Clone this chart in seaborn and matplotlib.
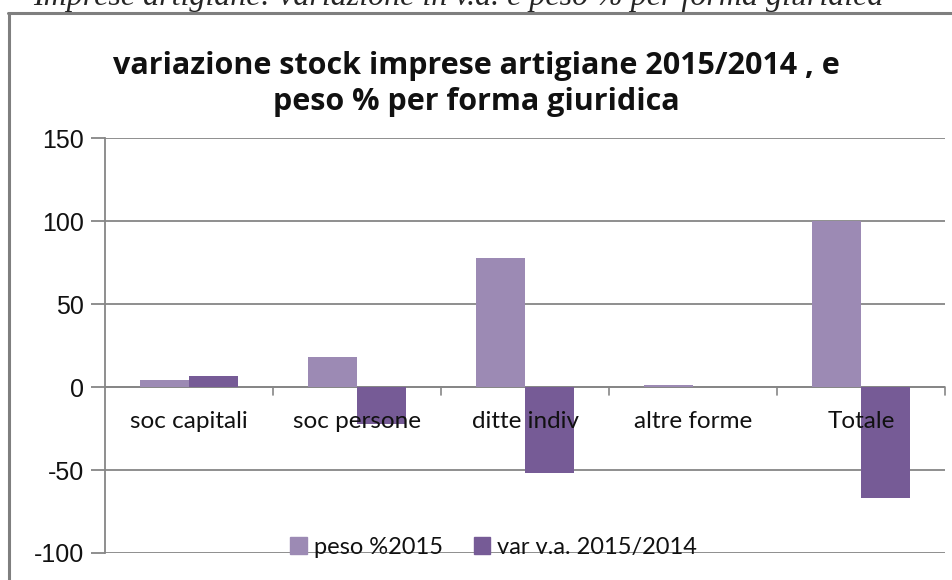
import numpy as np
import pandas as pd
import matplotlib
matplotlib.use('Agg')
import matplotlib.pyplot as plt
import seaborn as sns
from matplotlib.lines import Line2D

# ================= dati =================
categorie = ['soc capitali', 'soc persone', 'ditte indiv', 'altre forme', 'Totale']
serie = ['peso %2015', 'var v.a. 2015/2014']
peso_2015 = [4.4, 18.0, 78.0, 1.2, 100.0]
var_va = [6.6, -22.0, -52.0, -0.1, -67.0]
colori = ['#9C8AB4', '#765B96']
y_ticks = [-100, -50, 0, 50, 100, 150]

titolo = 'variazione stock imprese artigiane 2015/2014 , e\npeso % per forma giuridica'
didascalia = 'Imprese artigiane: variazione in v.a. e peso % per forma giuridica'

df = pd.DataFrame({
    'forma': categorie * 2,
    'serie': [serie[0]] * len(categorie) + [serie[1]] * len(categorie),
    'valore': peso_2015 + var_va,
})

# ================= grafico =================
sns.set_style('white')
plt.rcParams['font.family'] = ['Lato', 'DejaVu Sans']
plt.rcParams['axes.unicode_minus'] = False

fig = plt.figure(figsize=(9.53, 5.8), dpi=100)
ax = fig.add_axes([0.1102, 0.0466, 0.8814, 0.715])

sns.barplot(data=df, x='forma', y='valore', hue='serie', order=categorie,
            hue_order=serie, palette=colori, width=0.58, gap=0,
            saturation=1, linewidth=0, ax=ax, legend=False, zorder=3)

ax.set_xlim(-0.5, len(categorie) - 0.5)
ax.set_ylim(-100, 150)
ax.set_yticks(y_ticks)
ax.set_xlabel('')
ax.set_ylabel('')

grigio = '#868686'
ax.yaxis.grid(True, color=grigio, linewidth=1.3, zorder=0)
ax.set_axisbelow(True)
for s in ['top', 'right', 'bottom']:
    ax.spines[s].set_visible(False)
ax.spines['left'].set_color(grigio)
ax.spines['left'].set_linewidth(1.3)

# asse x sulla linea dello zero, etichette sopra le barre
ax.axhline(0, color=grigio, linewidth=1.3, zorder=2)
ax.set_xticks([])
for i, nome in enumerate(categorie):
    ax.text(i, -21, nome, ha='center', va='center', fontsize=17.5,
            color='#111111', zorder=5)
for xb in np.arange(len(categorie)) + 0.5:
    ax.plot([xb, xb], [0, -4.5], color=grigio, linewidth=1.2, zorder=2, clip_on=False)

ax.tick_params(axis='y', length=10, width=1.3, color=grigio, labelsize=18,
               left=True, pad=5, labelcolor='#111111')
for lab in ax.get_yticklabels():
    lab.set_family(['Liberation Sans', 'DejaVu Sans'])

# legenda
handles = [plt.Rectangle((0, 0), 1, 1, color=c) for c in colori]
fig.legend(handles, serie, loc='center', bbox_to_anchor=(0.518, 0.056), ncol=2,
           frameon=False, fontsize=17, handlelength=0.7, handleheight=0.7,
           handletextpad=0.3, columnspacing=1.3, labelcolor='#111111')

# titolo e didascalia
fig.text(0.5, 0.855, titolo, ha='center', va='center', fontsize=22,
         fontweight='bold', linespacing=1.25, color='#111111',
         family=['Open Sans', 'DejaVu Sans'])
fig.text(33 / 953, 1 - 5 / 580, didascalia, ha='left', va='baseline', fontsize=23,
         style='italic', family=['Liberation Serif', 'DejaVu Serif'])

# cornice del grafico
fig.add_artist(Line2D([9.5 / 953, 9.5 / 953], [0, 1 - 13 / 580], color='#7f7f7f', linewidth=2.2))
fig.add_artist(Line2D([8 / 953, 1], [1 - 13 / 580, 1 - 13 / 580], color='#7f7f7f', linewidth=2.2))

fig.savefig('out.png', dpi=100)
